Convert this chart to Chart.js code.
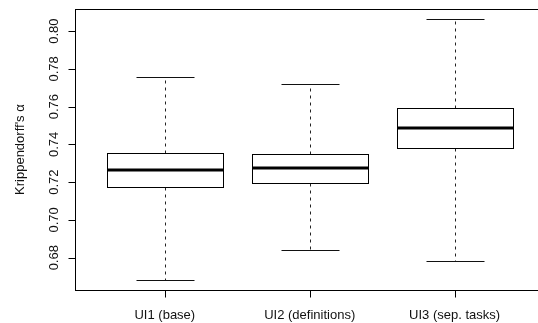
<!DOCTYPE html>
<html>
<head>
<meta charset="utf-8">
<script src="https://cdn.jsdelivr.net/npm/chart.js@4/dist/chart.umd.min.js"></script>
<style>
  html, body { margin: 0; padding: 0; background: #fff; overflow: hidden; }
  #wrap { width: 546px; height: 323px; position: relative; }
</style>
</head>
<body>
<div id="wrap"><canvas id="c"></canvas></div>
<script>
// Box-and-whisker summaries of Krippendorff's alpha per interface variant
const categories = ['UI1 (base)', 'UI2 (definitions)', 'UI3 (sep. tasks)'];
const whiskerLow = [0.6683, 0.6840, 0.6785];
const quartile1  = [0.7173, 0.7197, 0.7379];
const medians    = [0.7265, 0.7277, 0.7488];
const quartile3  = [0.7353, 0.7349, 0.7591];
const whiskerHigh = [0.7755, 0.7718, 0.8062];
const yTicks = [0.68, 0.70, 0.72, 0.74, 0.76, 0.78, 0.80];
const yTitle = "Krippendorff's \u03b1";

const FONT = '13px "Liberation Sans", Arial, sans-serif';

const boxPlot = {
  id: 'boxPlot',
  afterDatasetsDraw(chart) {
    const { ctx, chartArea: a, scales: { x, y } } = chart;
    const crisp = v => Math.round(v) + 0.5;
    ctx.save();
    ctx.strokeStyle = '#000';
    ctx.fillStyle = '#111';
    ctx.lineWidth = 1;

    // plot frame
    ctx.strokeRect(crisp(a.left), crisp(a.top), Math.round(a.right) - Math.round(a.left), Math.round(a.bottom) - Math.round(a.top));

    // y axis ticks + rotated labels
    ctx.font = FONT;
    yTicks.forEach(t => {
      const py = crisp(y.getPixelForValue(t));
      ctx.beginPath();
      ctx.moveTo(crisp(a.left) - 7, py);
      ctx.lineTo(crisp(a.left), py);
      ctx.stroke();
      ctx.save();
      ctx.translate(a.left - 17, y.getPixelForValue(t));
      ctx.rotate(-Math.PI / 2);
      ctx.textAlign = 'center';
      ctx.textBaseline = 'alphabetic';
      ctx.fillText(t.toFixed(2), 0, 0);
      ctx.restore();
    });

    // y axis title
    ctx.save();
    ctx.translate(24, (a.top + a.bottom) / 2);
    ctx.rotate(-Math.PI / 2);
    ctx.textAlign = 'center';
    ctx.textBaseline = 'alphabetic';
    ctx.fillText(yTitle, 0, 0);
    ctx.restore();

    // x axis ticks + labels
    categories.forEach((name, i) => {
      const px = crisp(x.getPixelForValue(i + 1));
      ctx.beginPath();
      ctx.moveTo(px, crisp(a.bottom));
      ctx.lineTo(px, crisp(a.bottom) + 7);
      ctx.stroke();
      ctx.textAlign = 'center';
      ctx.textBaseline = 'alphabetic';
      ctx.fillText(name, x.getPixelForValue(i + 1), 318.7);
    });

    // boxes, whiskers, medians
    ctx.beginPath();
    ctx.rect(a.left, a.top, a.right - a.left, a.bottom - a.top);
    ctx.clip();
    categories.forEach((name, i) => {
      const cx = crisp(x.getPixelForValue(i + 1));
      const bl = crisp(x.getPixelForValue(i + 1 - 0.4));
      const br = crisp(x.getPixelForValue(i + 1 + 0.4));
      const sl = crisp(x.getPixelForValue(i + 1 - 0.2));
      const sr = crisp(x.getPixelForValue(i + 1 + 0.2));
      const yLo = crisp(y.getPixelForValue(whiskerLow[i]));
      const yQ1 = crisp(y.getPixelForValue(quartile1[i]));
      const yMd = Math.round(y.getPixelForValue(medians[i]));
      const yQ3 = crisp(y.getPixelForValue(quartile3[i]));
      const yHi = crisp(y.getPixelForValue(whiskerHigh[i]));

      // dashed whiskers
      ctx.strokeStyle = '#222';
      ctx.lineWidth = 1;
      ctx.setLineDash([3, 4]);
      ctx.beginPath();
      ctx.moveTo(cx, yQ3); ctx.lineTo(cx, yHi);
      ctx.moveTo(cx, yQ1); ctx.lineTo(cx, yLo);
      ctx.stroke();
      ctx.setLineDash([]);

      // staples
      ctx.strokeStyle = '#111';
      ctx.beginPath();
      ctx.moveTo(sl, yHi); ctx.lineTo(sr, yHi);
      ctx.moveTo(sl, yLo); ctx.lineTo(sr, yLo);
      ctx.stroke();

      // box
      ctx.fillStyle = '#fff';
      ctx.fillRect(bl, yQ3, br - bl, yQ1 - yQ3);
      ctx.strokeStyle = '#000';
      ctx.strokeRect(bl, yQ3, br - bl, yQ1 - yQ3);

      // median
      ctx.lineWidth = 3;
      ctx.beginPath();
      ctx.moveTo(bl, yMd); ctx.lineTo(br, yMd);
      ctx.stroke();
      ctx.lineWidth = 1;
    });
    ctx.restore();
  }
};

new Chart(document.getElementById('c'), {
  type: 'scatter',
  data: {
    datasets: [{
      label: 'median',
      data: medians.map((m, i) => ({ x: i + 1, y: m })),
      pointRadius: 0,
      showLine: false
    }]
  },
  options: {
    responsive: true,
    maintainAspectRatio: false,
    animation: false,
    events: [],
    layout: { padding: { left: 75, right: 1.6, top: 9, bottom: 32.8 } },
    plugins: { legend: { display: false }, tooltip: { enabled: false } },
    scales: {
      x: { type: 'linear', min: 0.38, max: 3.62, display: false },
      y: { type: 'linear', min: 0.6628, max: 0.8117, display: false }
    }
  },
  plugins: [boxPlot]
});
</script>
</body>
</html>
